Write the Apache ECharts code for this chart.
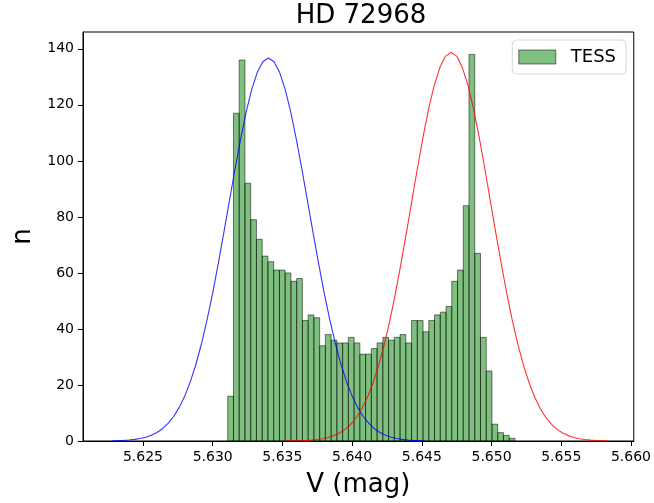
<!DOCTYPE html>
<html>
<head>
<meta charset="utf-8">
<title>HD 72968</title>
<script src="https://cdn.jsdelivr.net/npm/echarts@6/dist/echarts.min.js"></script>
<style>
  html, body { margin: 0; padding: 0; background: #fff; }
  #chart { width: 654px; height: 503px; }
</style>
</head>
<body>
<div id="chart"></div>
<script>
// Histogram of TESS V magnitudes: 50 equal bins starting at binStart
const binStart = 5.63108;
const binWidth = 0.000412;
const counts = [
  16, 117, 136, 92, 79, 72, 66, 64, 61, 61,
  60, 57, 58, 43, 45, 44, 34, 38, 36, 35,
  35, 37, 35, 31, 31, 33, 35, 37, 36, 37,
  38, 35, 43, 43, 39, 43, 45, 46, 48, 57,
  61, 84, 138, 67, 37, 25, 6, 3, 2, 1
];

// Fitted profile around the bright state (blue)
const blueX = [
  5.6228, 5.6232, 5.6236, 5.6240, 5.6244, 5.6248, 5.6252, 5.6256, 5.6260, 5.6264,
  5.6268, 5.6272, 5.6276, 5.6280, 5.6284, 5.6288, 5.6292, 5.6296, 5.6300, 5.6304,
  5.6308, 5.6312, 5.6316, 5.6320, 5.6324, 5.6328, 5.6332, 5.6336, 5.6340, 5.6344,
  5.6348, 5.6352, 5.6356, 5.6360, 5.6364, 5.6368, 5.6372, 5.6376, 5.6380, 5.6384,
  5.6388, 5.6392, 5.6396, 5.6400, 5.6404, 5.6408, 5.6412, 5.6416, 5.6420, 5.6424,
  5.6428, 5.6432, 5.6436, 5.6440, 5.6444, 5.6448, 5.6452
];
const blueY = [
  0.08, 0.13, 0.22, 0.36, 0.57, 0.89, 1.37, 2.06, 3.04, 4.40,
  6.26, 8.74, 12.0, 16.1, 21.2, 27.4, 34.8, 43.3, 52.8, 63.3,
  74.4, 85.7, 97.0, 107.7, 117.4, 125.5, 131.6, 135.4, 136.7, 135.4,
  131.6, 125.5, 117.4, 107.7, 97.0, 85.7, 74.4, 63.3, 52.8, 43.3,
  34.8, 27.4, 21.2, 16.1, 12.0, 8.74, 6.26, 4.40, 3.04, 2.06,
  1.37, 0.89, 0.57, 0.36, 0.22, 0.13, 0.08
];

// Fitted profile around the faint state (red)
const redX = [
  5.6351, 5.6355, 5.6359, 5.6363, 5.6367, 5.6371, 5.6375, 5.6379, 5.6383, 5.6387,
  5.6391, 5.6395, 5.6399, 5.6403, 5.6407, 5.6411, 5.6415, 5.6419, 5.6423, 5.6427,
  5.6431, 5.6435, 5.6439, 5.6443, 5.6447, 5.6451, 5.6455, 5.6459, 5.6463, 5.6467,
  5.6471, 5.6475, 5.6479, 5.6483, 5.6487, 5.6491, 5.6495, 5.6499, 5.6503, 5.6507,
  5.6511, 5.6515, 5.6519, 5.6523, 5.6527, 5.6531, 5.6535, 5.6539, 5.6543, 5.6547,
  5.6551, 5.6555, 5.6559, 5.6563, 5.6567, 5.6571, 5.6575, 5.6579, 5.6583
];
const redY = [
  0.02, 0.04, 0.07, 0.12, 0.20, 0.32, 0.52, 0.82, 1.26, 1.92,
  2.85, 4.16, 5.95, 8.38, 11.5, 15.6, 20.7, 26.9, 34.3, 42.8,
  52.5, 63.2, 74.5, 86.1, 97.8, 108.8, 118.8, 127.1, 133.4, 137.4,
  138.7, 137.4, 133.4, 127.1, 118.8, 108.8, 97.8, 86.1, 74.5, 63.2,
  52.5, 42.8, 34.3, 26.9, 20.7, 15.6, 11.5, 8.38, 5.95, 4.16,
  2.85, 1.92, 1.26, 0.82, 0.52, 0.32, 0.20, 0.12, 0.07
];

const xTicks = [5.625, 5.630, 5.635, 5.640, 5.645, 5.650, 5.655, 5.660];
const yTicks = [0, 20, 40, 60, 80, 100, 120, 140];

const FONT = 'DejaVu Sans';
const barFill = 'rgba(0,128,0,0.5)';
const barEdge = 'rgba(0,0,0,0.5)';

const histData = counts.map((c, i) => [binStart + i * binWidth, binStart + (i + 1) * binWidth, c]);
const zip = (xs, ys) => xs.map((x, i) => [x, ys[i]]);

const chart = echarts.init(document.getElementById('chart'), null, { renderer: 'canvas' });

chart.setOption({
  animation: false,
  backgroundColor: '#fff',
  title: {
    text: 'HD 72968',
    left: 356,
    top: -2,
    textAlign: 'center',
    textStyle: { fontFamily: FONT, fontSize: 26, fontWeight: 'normal', color: '#000' }
  },
  legend: {
    data: [{
      name: 'TESS',
      icon: 'rect',
      itemStyle: { color: barFill, borderColor: barEdge, borderWidth: 1 }
    }],
    right: 28,
    top: 40,
    orient: 'vertical',
    itemWidth: 37,
    itemHeight: 14,
    padding: [8, 10, 8, 6],
    backgroundColor: '#fff',
    borderColor: '#d8d8d8',
    borderWidth: 1,
    borderRadius: 4,
    selectedMode: false,
    textStyle: { fontFamily: FONT, fontSize: 18, color: '#000', padding: [0, 0, 0, 10] }
  },
  grid: {
    left: 83, right: 20, top: 32, bottom: 62,
    show: true, borderColor: '#000', borderWidth: 1, backgroundColor: 'transparent'
  },
  xAxis: {
    type: 'value',
    min: 5.6207,
    max: 5.6602,
    name: 'V (mag)',
    nameLocation: 'middle',
    nameGap: 31,
    nameTextStyle: { fontFamily: FONT, fontSize: 26, color: '#000' },
    axisLine: { show: true, onZero: false, lineStyle: { color: '#000', width: 1 } },
    axisTick: { show: true, length: 5, customValues: xTicks, lineStyle: { color: '#000' } },
    axisLabel: {
      customValues: xTicks,
      margin: 9,
      fontFamily: FONT, fontSize: 14, color: '#000',
      formatter: v => v.toFixed(3)
    },
    splitLine: { show: false }
  },
  yAxis: {
    type: 'value',
    min: 0,
    max: 146,
    name: 'n',
    nameLocation: 'middle',
    nameGap: 46,
    nameTextStyle: { fontFamily: FONT, fontSize: 26, color: '#000' },
    axisLine: { show: true, lineStyle: { color: '#000', width: 1 } },
    axisTick: { show: true, length: 5, customValues: yTicks, lineStyle: { color: '#000' } },
    axisLabel: {
      customValues: yTicks,
      margin: 9,
      fontFamily: FONT, fontSize: 14, color: '#000'
    },
    splitLine: { show: false }
  },
  series: [
    {
      name: 'TESS',
      type: 'custom',
      data: histData,
      encode: { x: [0, 1], y: 2 },
      itemStyle: { color: barFill, borderColor: barEdge },
      renderItem: (params, api) => {
        const p0 = api.coord([api.value(0), api.value(2)]);
        const p1 = api.coord([api.value(1), 0]);
        return {
          type: 'rect',
          shape: { x: p0[0], y: p0[1], width: p1[0] - p0[0], height: p1[1] - p0[1] },
          style: { fill: barFill, stroke: barEdge, lineWidth: 1 }
        };
      },
      z: 2
    },
    {
      name: 'bright',
      type: 'line',
      data: zip(blueX, blueY),
      showSymbol: false,
      smooth: false,
      lineStyle: { color: 'rgba(0,0,255,0.8)', width: 1.1 },
      itemStyle: { color: 'rgba(0,0,255,0.8)' },
      z: 3
    },
    {
      name: 'faint',
      type: 'line',
      data: zip(redX, redY),
      showSymbol: false,
      smooth: false,
      lineStyle: { color: 'rgba(255,0,0,0.8)', width: 1.1 },
      itemStyle: { color: 'rgba(255,0,0,0.8)' },
      z: 3
    }
  ]
});
</script>
</body>
</html>
